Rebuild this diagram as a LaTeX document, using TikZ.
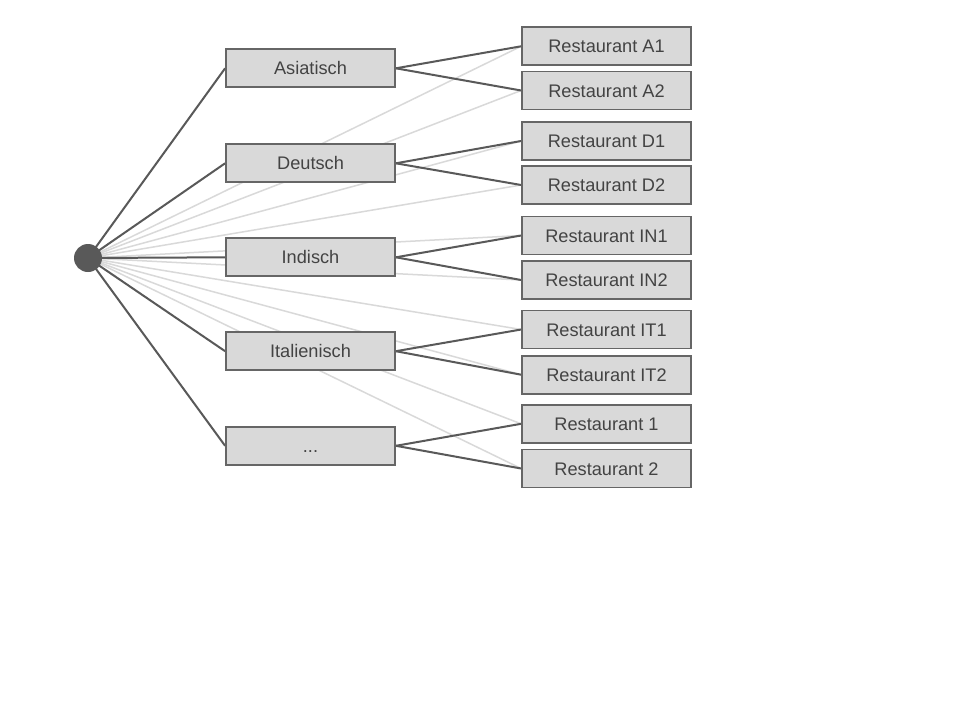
\documentclass[tikz,border=0pt]{standalone}
\usepackage{fontspec}
\setmainfont{Liberation Sans}
\usetikzlibrary{backgrounds}
\definecolor{boxfill}{HTML}{D9D9D9}
\definecolor{boxline}{HTML}{666666}
\definecolor{darkline}{HTML}{595959}
\definecolor{lightline}{HTML}{D9D9D9}
\definecolor{txt}{HTML}{434343}
\tikzset{
  catbox/.style={draw=boxline, fill=boxfill, line width=1.8pt, minimum width=169pt, minimum height=38pt, inner sep=0pt, text=txt, text height=13pt, text depth=0pt, font=\fontsize{18.2}{21}\selectfont},
  dark/.style={draw=darkline, line width=2pt},
  light/.style={draw=lightline, line width=1.5pt},
}
\begin{document}
\begin{tikzpicture}[x=1pt,y=-1pt]
\useasboundingbox (0,0) rectangle (960,720);
% root
\node[circle, fill=darkline, minimum size=28pt, inner sep=0pt] (root) at (88,258) {};
% categories
\node[catbox] (c1) at (310.5,68.3) {Asiatisch};
\node[catbox] (c2) at (310.5,163.3) {Deutsch};
\node[catbox] (c3) at (310.5,257.3) {Indisch};
\node[catbox] (c4) at (310.5,351.2) {Italienisch};
\node[catbox] (c5) at (310.5,445.8) {...};
% restaurants
\node[catbox] (r1) at (606.5,46.3) {Restaurant A1};
\node[catbox] (r2) at (606.5,90.5) {Restaurant A2};
\node[catbox] (r3) at (606.5,141) {Restaurant D1};
\node[catbox] (r4) at (606.5,185) {Restaurant D2};
\node[catbox] (r5) at (606.5,235.5) {Restaurant IN1};
\node[catbox] (r6) at (606.5,280) {Restaurant IN2};
\node[catbox] (r7) at (606.5,329.5) {Restaurant IT1};
\node[catbox] (r8) at (606.5,374.7) {Restaurant IT2};
\node[catbox] (r9) at (606.5,423.8) {Restaurant 1};
\node[catbox] (r10) at (606.5,468.5) {Restaurant 2};
% connectors behind the boxes
\begin{scope}[on background layer]
  \fill[white] (0,0) rectangle (960,720);
  \foreach \r in {r1,r2,r3,r4,r5,r6,r7,r8,r9,r10}
    \draw[light] (root.center) -- (\r.west);
  \foreach \c in {c1,c2,c3,c4,c5}
    \draw[dark] (root.center) -- (\c.west);
  \draw[dark] (c1.east) -- (r1.west);
  \draw[dark] (c1.east) -- (r2.west);
  \draw[dark] (c2.east) -- (r3.west);
  \draw[dark] (c2.east) -- (r4.west);
  \draw[dark] (c3.east) -- (r5.west);
  \draw[dark] (c3.east) -- (r6.west);
  \draw[dark] (c4.east) -- (r7.west);
  \draw[dark] (c4.east) -- (r8.west);
  \draw[dark] (c5.east) -- (r9.west);
  \draw[dark] (c5.east) -- (r10.west);
\end{scope}
\end{tikzpicture}
\end{document}
